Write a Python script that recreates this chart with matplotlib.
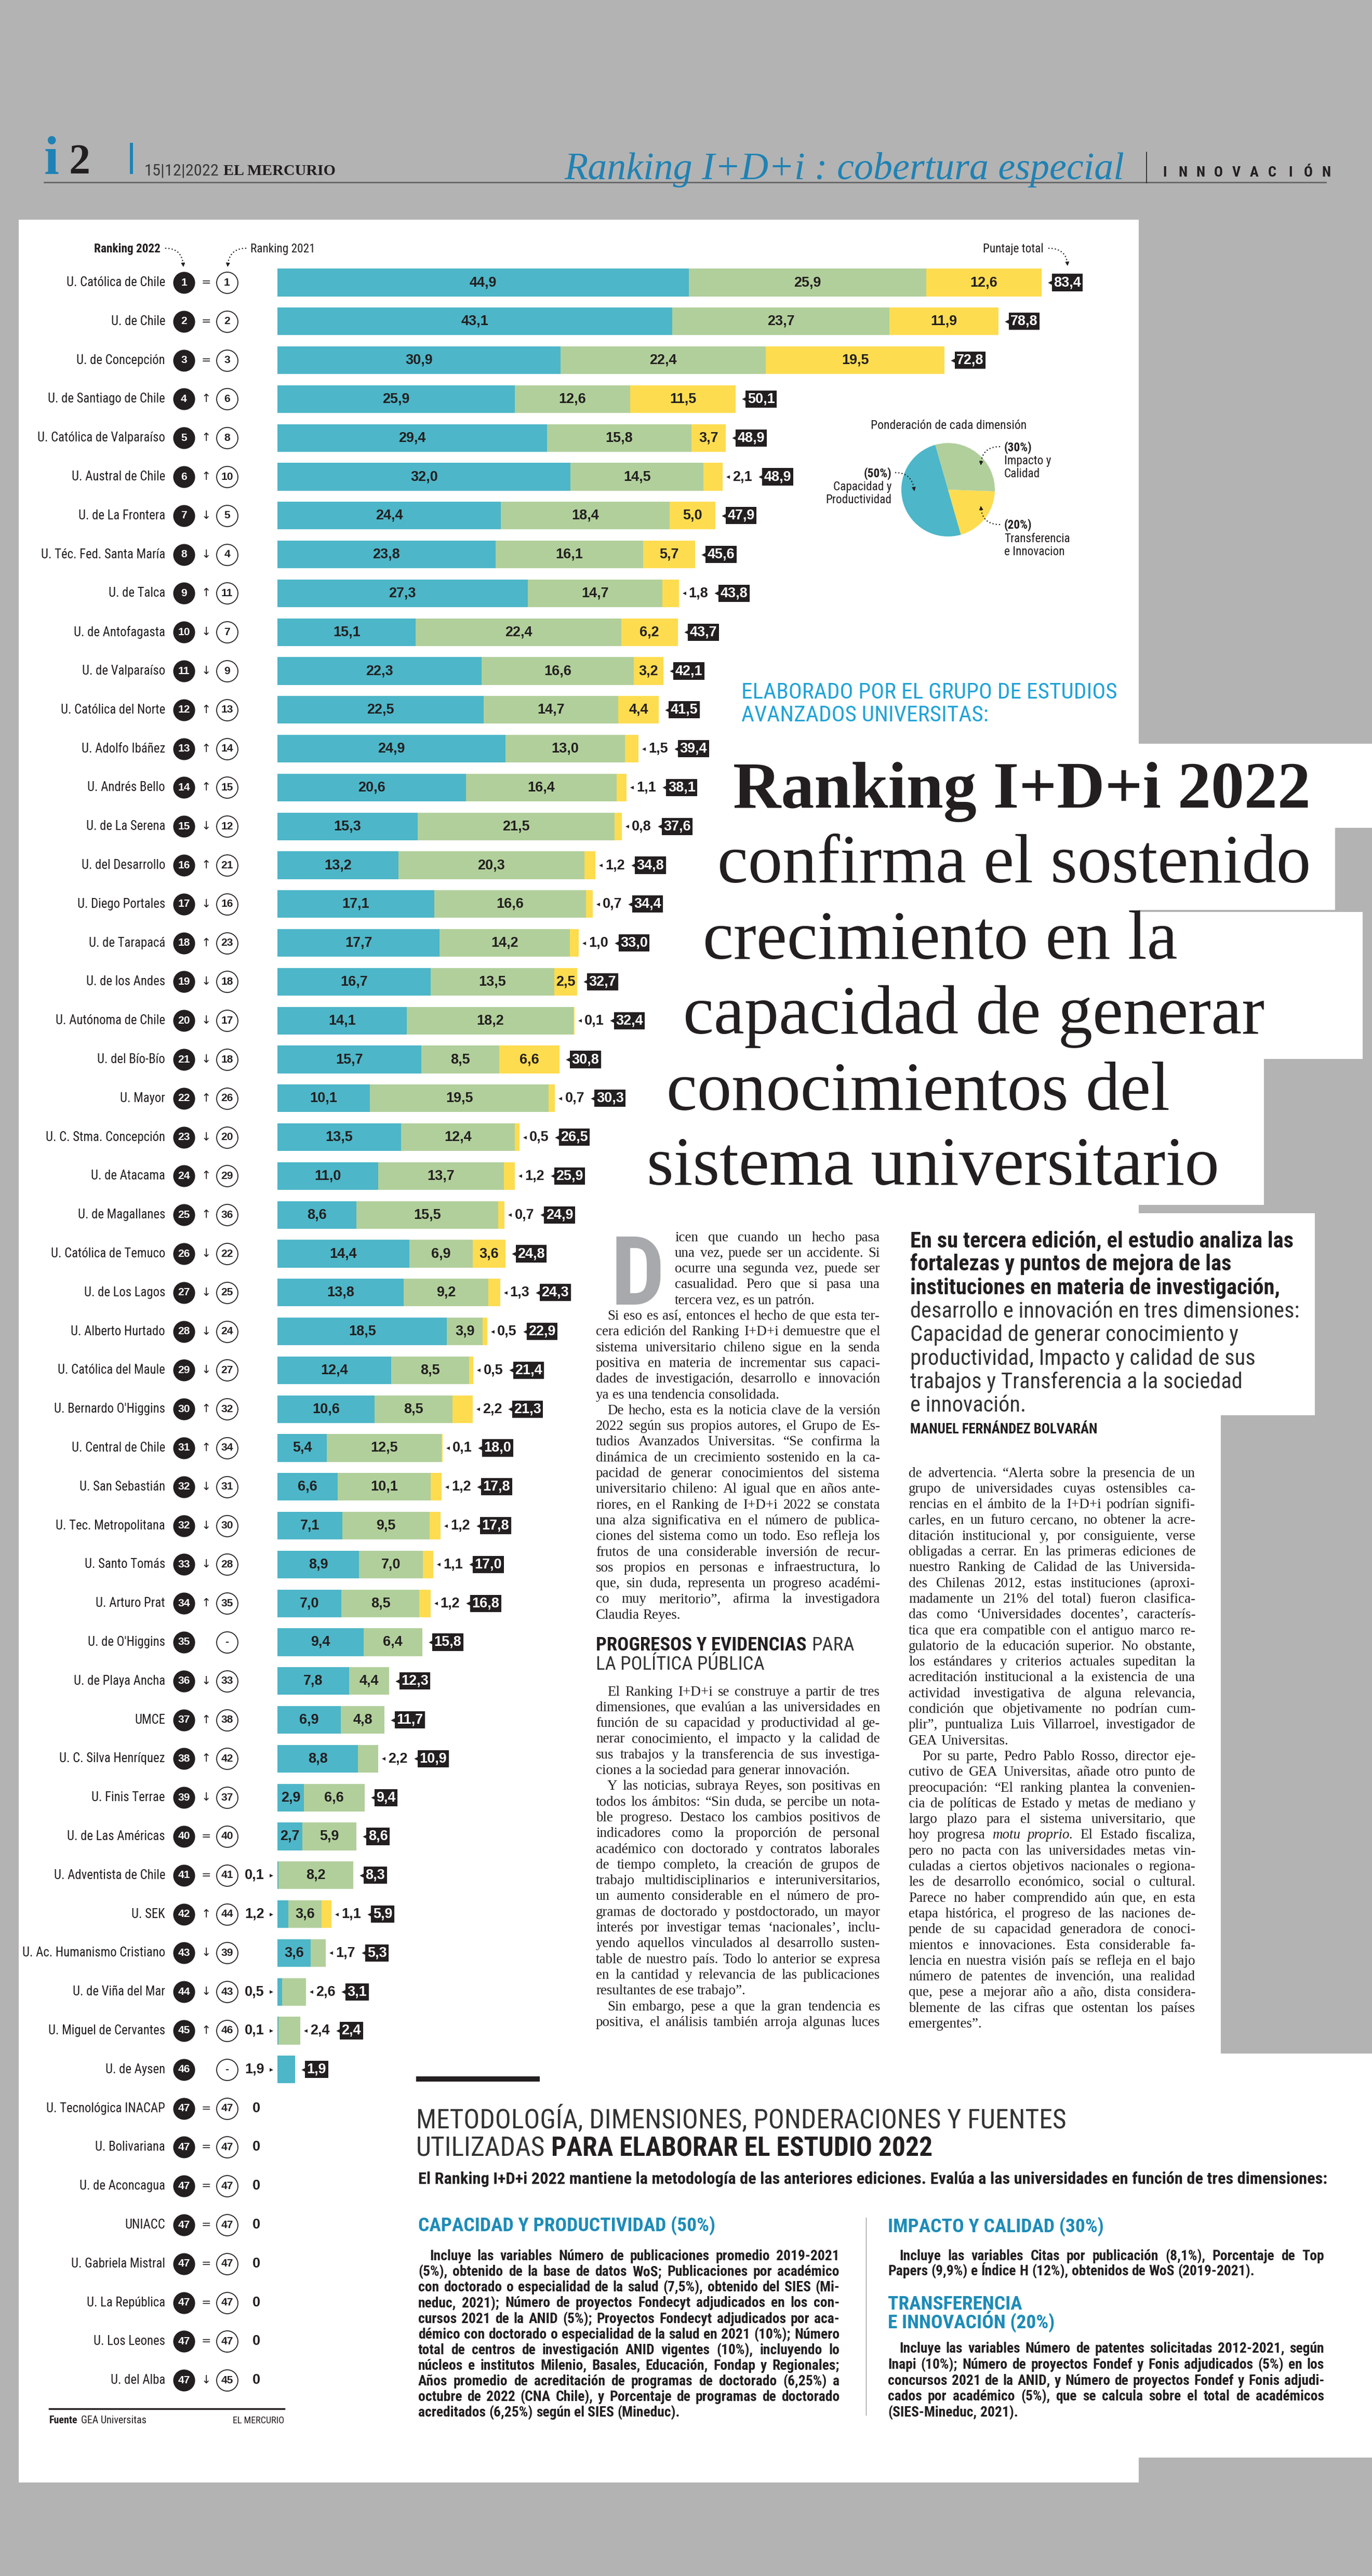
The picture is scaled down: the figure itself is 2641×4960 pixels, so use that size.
import numpy as np
import matplotlib
matplotlib.use("Agg")
import matplotlib.pyplot as plt
from matplotlib import font_manager as fm
from matplotlib.font_manager import FontProperties
from matplotlib.patches import Rectangle

W, H = 2641, 4960

# ---------------- data ----------------
universities = [
    "U. Católica de Chile", "U. de Chile", "U. de Concepción", "U. de Santiago de Chile",
    "U. Católica de Valparaíso", "U. Austral de Chile", "U. de La Frontera", "U. Téc. Fed. Santa María",
    "U. de Talca", "U. de Antofagasta", "U. de Valparaíso", "U. Católica del Norte", "U. Adolfo Ibáñez",
    "U. Andrés Bello", "U. de La Serena", "U. del Desarrollo", "U. Diego Portales", "U. de Tarapacá",
    "U. de los Andes", "U. Autónoma de Chile", "U. del Bío-Bío", "U. Mayor", "U. C. Stma. Concepción",
    "U. de Atacama", "U. de Magallanes", "U. Católica de Temuco", "U. de Los Lagos", "U. Alberto Hurtado",
    "U. Católica del Maule", "U. Bernardo O'Higgins", "U. Central de Chile", "U. San Sebastián",
    "U. Tec. Metropolitana", "U. Santo Tomás", "U. Arturo Prat", "U. de O'Higgins", "U. de Playa Ancha",
    "UMCE", "U. C. Silva Henríquez", "U. Finis Terrae", "U. de Las Américas", "U. Adventista de Chile",
    "U. SEK", "U. Ac. Humanismo Cristiano", "U. de Viña del Mar", "U. Miguel de Cervantes", "U. de Aysen",
    "U. Tecnológica INACAP", "U. Bolivariana", "U. de Aconcagua", "UNIACC", "U. Gabriela Mistral",
    "U. La República", "U. Los Leones", "U. del Alba"]

rank_2022 = ["1", "2", "3", "4", "5", "6", "7", "8", "9", "10", "11", "12", "13", "14", "15", "16",
             "17", "18", "19", "20", "21", "22", "23", "24", "25", "26", "27", "28", "29", "30", "31",
             "32", "32", "33", "34", "35", "36", "37", "38", "39", "40", "41", "42", "43", "44", "45",
             "46", "47", "47", "47", "47", "47", "47", "47", "47"]
rank_2021 = ["1", "2", "3", "6", "8", "10", "5", "4", "11", "7", "9", "13", "14", "15", "12", "21",
             "16", "23", "18", "17", "18", "26", "20", "29", "36", "22", "25", "24", "27", "32", "34",
             "31", "30", "28", "35", "-", "33", "38", "42", "37", "40", "41", "44", "39", "43", "46",
             "-", "47", "47", "47", "47", "47", "47", "47", "45"]
movement = ["=", "=", "=", "↑", "↑", "↑", "↓", "↓", "↑", "↓", "↓", "↑", "↑", "↑", "↓", "↑", "↓", "↑",
            "↓", "↓", "↓", "↑", "↓", "↑", "↑", "↓", "↓", "↓", "↓", "↑", "↑", "↓", "↓", "↓", "↑", "",
            "↓", "↑", "↑", "↓", "=", "=", "↑", "↓", "↓", "↑", "", "=", "=", "=", "=", "=", "=", "=", "↓"]

capacidad = [44.9, 43.1, 30.9, 25.9, 29.4, 32.0, 24.4, 23.8, 27.3, 15.1, 22.3, 22.5, 24.9, 20.6, 15.3,
             13.2, 17.1, 17.7, 16.7, 14.1, 15.7, 10.1, 13.5, 11.0, 8.6, 14.4, 13.8, 18.5, 12.4, 10.6,
             5.4, 6.6, 7.1, 8.9, 7.0, 9.4, 7.8, 6.9, 8.8, 2.9, 2.7, 0.1, 1.2, 3.6, 0.5, 0.1, 1.9,
             0, 0, 0, 0, 0, 0, 0, 0]
impacto = [25.9, 23.7, 22.4, 12.6, 15.8, 14.5, 18.4, 16.1, 14.7, 22.4, 16.6, 14.7, 13.0, 16.4, 21.5,
           20.3, 16.6, 14.2, 13.5, 18.2, 8.5, 19.5, 12.4, 13.7, 15.5, 6.9, 9.2, 3.9, 8.5, 8.5,
           12.5, 10.1, 9.5, 7.0, 8.5, 6.4, 4.4, 4.8, 2.2, 6.6, 5.9, 8.2, 3.6, 1.7, 2.6, 2.4, 0,
           0, 0, 0, 0, 0, 0, 0, 0]
transferencia = [12.6, 11.9, 19.5, 11.5, 3.7, 2.1, 5.0, 5.7, 1.8, 6.2, 3.2, 4.4, 1.5, 1.1, 0.8,
                 1.2, 0.7, 1.0, 2.5, 0.1, 6.6, 0.7, 0.5, 1.2, 0.7, 3.6, 1.3, 0.5, 0.5, 2.2,
                 0.1, 1.2, 1.2, 1.1, 1.2, 0, 0, 0, 0, 0, 0, 0, 1.1, 0, 0, 0, 0,
                 0, 0, 0, 0, 0, 0, 0, 0]
puntaje_total = [83.4, 78.8, 72.8, 50.1, 48.9, 48.9, 47.9, 45.6, 43.8, 43.7, 42.1, 41.5, 39.4, 38.1,
                 37.6, 34.8, 34.4, 33.0, 32.7, 32.4, 30.8, 30.3, 26.5, 25.9, 24.9, 24.8, 24.3, 22.9,
                 21.4, 21.3, 18.0, 17.8, 17.8, 17.0, 16.8, 15.8, 12.3, 11.7, 10.9, 9.4, 8.6, 8.3,
                 5.9, 5.3, 3.1, 2.4, 1.9, 0, 0, 0, 0, 0, 0, 0, 0]

pie_names = ["Capacidad y\nProductividad", "Impacto y\nCalidad", "Transferencia\ne Innovacion"]
pie_weights = [50, 30, 20]

# ---------------- style ----------------
PAGE = "#b3b3b3"
INK = "#231f20"
BLUE = "#4db6c8"
GREEN = "#b1cf9b"
YELLOW = "#fedc50"
HEAD_BLUE = "#1f82b4"
CYAN = "#22a3d6"
SUB_BLUE = "#1d8cb8"

installed = {f.name for f in fm.fontManager.ttflist}
NARROW = next((f for f in ["Liberation Sans Narrow", "Roboto Condensed", "Open Sans Condensed"]
               if f in installed), "Liberation Sans")
SANS = "Liberation Sans" if "Liberation Sans" in installed else "DejaVu Sans"
SERIF = "Liberation Serif" if "Liberation Serif" in installed else "DejaVu Serif"
SYM = "DejaVu Sans"

fig = plt.figure(figsize=(W / 100, H / 100), dpi=100)
fig.patch.set_facecolor(PAGE)
R = fig.canvas.get_renderer()


def fprop(fam, px, w="normal", st="normal"):
    return FontProperties(family=fam, size=px * 0.72, weight=w, style=st)


def tw(s, fam, px, w="normal", st="normal"):
    return R.get_text_width_height_descent(s, fprop(fam, px, w, st), ismath=False)[0]


_sample = "Universidad Católica de Chile 2022"
NK = 0.82 * tw(_sample, "Liberation Sans", 100) / tw(_sample, NARROW, 100)


def npx(px):
    return px * NK


bg = fig.add_axes([0, 0, 1, 1], zorder=0)
bg.set_xlim(0, W)
bg.set_ylim(H, 0)
bg.axis("off")

top = fig.add_axes([0, 0, 1, 1], zorder=3)
top.set_xlim(0, W)
top.set_ylim(H, 0)
top.axis("off")


def put(x, y, s, px, fam=None, w="normal", st="normal", c=INK, ha="left", va="baseline", axes=None, **kw):
    fam = fam or NARROW
    return (axes or bg).text(x, y, s, fontfamily=fam, fontsize=px * 0.72, fontweight=w, fontstyle=st,
                             color=c, ha=ha, va=va, **kw)


def fit(x, y, s, width, fam, w="normal", st="normal", **kw):
    px = 100 * width / tw(s, fam, 100, w, st)
    put(x, y, s, px, fam, w, st, **kw)
    return px


def curve(p0, c, p1):
    t = np.linspace(0, 1, 30)
    xs = (1 - t) ** 2 * p0[0] + 2 * (1 - t) * t * c[0] + t ** 2 * p1[0]
    ys = (1 - t) ** 2 * p0[1] + 2 * (1 - t) * t * c[1] + t ** 2 * p1[1]
    top.plot(xs[:-2], ys[:-2], color=INK, lw=1.6, ls=(0, (1.0, 1.8)))
    top.annotate("", xy=p1, xytext=(xs[-4], ys[-4]),
                 arrowprops=dict(arrowstyle="-|>", color=INK, lw=1.0, mutation_scale=11,
                                 shrinkA=0, shrinkB=0))


# ---------------- page background ----------------
for x0, y0, x1, y1 in [(36, 423, 2192, 4780), (1300, 1432, 2641, 1594), (1300, 1594, 2570, 1752),
                       (1300, 1756, 2623, 2039), (1300, 2039, 2433, 2320), (2150, 2336, 2531, 2725),
                       (2150, 2725, 2350, 3954), (2150, 3954, 2641, 4732)]:
    bg.add_patch(Rectangle((x0, y0), x1 - x0, y1 - y0, fc="white", ec="none"))

# ---------------- header ----------------
put(85, 334, "i", 104, SERIF, "bold", c=HEAD_BLUE)
put(133, 334, "2", 82, SERIF, "bold")
bg.add_patch(Rectangle((250, 275), 6, 60, fc=HEAD_BLUE, ec="none"))
fit(278, 337, "15|12|2022", 144, NARROW, c="#3a3a3a")
fit(430, 337, "EL MERCURIO", 216, SERIF, "bold")
bg.plot([85, 2552], [351, 351], color="#666666", lw=2)
fit(1086, 345, "Ranking I+D+i : cobertura especial", 1078, SERIF, "normal", "italic", c=HEAD_BLUE)
bg.plot([2207, 2207], [293, 352], color=INK, lw=1.2)
for k, ch in enumerate("INNOVACIÓN"):
    put(2242 + k * 34.5, 340, ch, npx(30), w="bold", ha="center")

# ---------------- chart annotations ----------------
ANN = npx(25)
put(309, 486, "Ranking 2022", ANN, w="bold", ha="right")
put(482, 486, "Ranking 2021", ANN)
put(2009, 486, "Puntaje total", ANN, ha="right")
curve((318, 478), (352, 478), (353, 514))
curve((474, 478), (440, 478), (438, 514))
curve((2018, 478), (2054, 478), (2055, 512))

# ---------------- bar chart ----------------
PX0, SC, ROW0, DY = 534, 17.64, 544, 74.8


def X(px):
    return (px - PX0) / SC


ax = fig.add_axes([0, 0, 1, 1], zorder=2)
ax.set_xlim(X(0), X(W))
ax.set_ylim(1 + (H - ROW0) / DY, 1 - ROW0 / DY)
ax.axis("off")

rows = np.arange(1, len(universities) + 1)
cap_a = np.array(capacidad)
imp_a = np.array(impacto)
tra_a = np.array(transferencia)
BAR_H = 0.71
ax.barh(rows, cap_a, height=BAR_H, color=BLUE, lw=0)
ax.barh(rows, imp_a, left=cap_a, height=BAR_H, color=GREEN, lw=0)
ax.barh(rows, tra_a, left=cap_a + imp_a, height=BAR_H, color=YELLOW, lw=0)


def fmt(v):
    return f"{v:.1f}".replace(".", ",")


VAL = 27
NAME = npx(26.5)
CIRC = 21
for i, y in enumerate(rows):
    # name, ranks and movement
    put(X(318), y, universities[i], NAME, ha="right", va="center", axes=ax)
    ax.scatter([X(354)], [y], s=920, color=INK, lw=0, zorder=3)
    put(X(354), y, rank_2022[i], CIRC, SANS, "bold", c="white", ha="center", va="center", axes=ax, zorder=4)
    if movement[i]:
        put(X(397), y, movement[i], 22, SYM, ha="center", va="center", axes=ax)
    ax.scatter([X(437)], [y], s=870, facecolor="white", edgecolor=INK, lw=1.3, zorder=3)
    put(X(437), y, rank_2021[i], CIRC, SANS, "bold", ha="center", va="center", axes=ax, zorder=4)

    segs = [(cap_a[i], 0.0), (imp_a[i], cap_a[i]), (tra_a[i], cap_a[i] + imp_a[i])]
    nz = [k for k in range(3) if segs[k][0] > 0]
    left_k = 0 if 0 < cap_a[i] < 2.5 else None
    rest = [k for k in nz if k != left_k]
    right_k = None
    if rest and (segs[rest[-1]][0] < 2.5 or puntaje_total[i] < 4):
        right_k = rest[-1]
    for k in rest:
        if k != right_k:
            put(segs[k][1] + segs[k][0] / 2, y, fmt(segs[k][0]), VAL, SANS, "bold", ha="center",
                va="center", axes=ax)
    if left_k is not None:
        put(X(509), y, fmt(cap_a[i]), VAL, SANS, "bold", ha="right", va="center", axes=ax)
        ax.scatter([X(522)], [y], marker=">", s=24, color=INK, lw=0)

    end_px = PX0 + (cap_a[i] + imp_a[i] + tra_a[i]) * SC
    cursor = end_px
    if right_k is not None:
        lab = fmt(segs[right_k][0])
        ax.scatter([X(end_px + 10)], [y], marker="<", s=24, color=INK, lw=0)
        put(X(end_px + 19), y, lab, VAL, SANS, "bold", ha="left", va="center", axes=ax)
        cursor = end_px + 19 + tw(lab, SANS, VAL, "bold")
    if puntaje_total[i] > 0:
        bx = cursor + 13
        ax.scatter([X(bx + 5)], [y], marker="<", s=80, color=INK, lw=0)
        put(X(bx + 10), y, fmt(puntaje_total[i]), VAL, SANS, "bold", c="white", ha="left", va="center",
            axes=ax, bbox=dict(boxstyle="square,pad=0.13", fc=INK, ec="none"))
    else:
        put(X(493), y, "0", VAL, SANS, "bold", ha="center", va="center", axes=ax)

# footer of chart
FT = npx(21.5)
bg.plot([95, 547], [4638, 4638], color=INK, lw=2.5)
put(95, 4666, "Fuente", FT, w="bold")
put(95 + tw("Fuente", NARROW, FT, "bold") + 6, 4666, "GEA Universitas", FT)
put(547, 4666, "EL MERCURIO", npx(19.5), ha="right")

# ---------------- pie ----------------
pax = fig.add_axes([1735 / W, 1 - (943 + 90) / H, 180 / W, 180 / H], zorder=1)
pax.pie([pie_weights[1], pie_weights[0], pie_weights[2]], colors=[GREEN, BLUE, YELLOW],
        startangle=-2, counterclock=True, wedgeprops=dict(linewidth=0))
pax.set_xlim(-1, 1)
pax.set_ylim(-1, 1)
put(1826, 826, "Ponderación de cada dimensión", npx(25.5), ha="center")
PL = npx(25)
put(1716, 919, f"({pie_weights[0]}%)", PL, w="bold", ha="right")
for k, ln in enumerate(pie_names[0].split("\n")):
    put(1716, 944 + k * 25, ln, PL, ha="right")
put(1933, 869, f"({pie_weights[1]}%)", PL, w="bold")
for k, ln in enumerate(pie_names[1].split("\n")):
    put(1933, 894 + k * 25, ln, PL)
put(1933, 1018, f"({pie_weights[2]}%)", PL, w="bold")
for k, ln in enumerate(pie_names[2].split("\n")):
    put(1933, 1044 + k * 25, ln, PL)
curve((1723, 910), (1757, 910), (1760, 946))
curve((1925, 860), (1889, 860), (1888, 896))
curve((1925, 1010), (1889, 1010), (1888, 974))

# ---------------- headline ----------------
epx = fit(1427, 1345, "ELABORADO POR EL GRUPO DE ESTUDIOS", 724, NARROW, c=CYAN)
put(1427, 1389, "AVANZADOS UNIVERSITAS:", epx, NARROW, c=CYAN)
fit(1411, 1555, "Ranking I+D+i 2022", 1112, SERIF, "bold")
tpx = 100 * 1142 / tw("confirma el sostenido", SERIF, 100)
for x0, yb, ln in [(1381, 1699, "confirma el sostenido"), (1353, 1846, "crecimiento en la"),
                   (1315, 1990, "capacidad de generar"), (1283, 2137, "conocimientos del"),
                   (1245, 2281, "sistema universitario")]:
    put(x0, yb, ln, tpx, SERIF)

# ---------------- article ----------------
col_a1 = ["icen que cuando un hecho pasa", "una vez, puede ser un accidente. Si",
          "ocurre una segunda vez, puede ser", "casualidad. Pero que si pasa una",
          "tercera vez, es un patrón."]
col_a2 = ["Si eso es así, entonces el hecho de que esta ter-",
          "cera edición del Ranking I+D+i demuestre que el",
          "sistema universitario chileno sigue en la senda",
          "positiva en materia de incrementar sus capaci-",
          "dades de investigación, desarrollo e innovación",
          "ya es una tendencia consolidada."]
col_a3 = ["De hecho, esta es la noticia clave de la versión",
          "2022 según sus propios autores, el Grupo de Es-",
          "tudios Avanzados Universitas. “Se confirma la",
          "dinámica de un crecimiento sostenido en la ca-",
          "pacidad de generar conocimientos del sistema",
          "universitario chileno: Al igual que en años ante-",
          "riores, en el Ranking de I+D+i 2022 se constata",
          "una alza significativa en el número de publica-",
          "ciones del sistema como un todo. Eso refleja los",
          "frutos de una considerable inversión de recur-",
          "sos propios en personas e infraestructura, lo",
          "que, sin duda, representa un progreso académi-",
          "co muy meritorio”, afirma la investigadora",
          "Claudia Reyes."]
col_a4 = ["El Ranking I+D+i se construye a partir de tres",
          "dimensiones, que evalúan a las universidades en",
          "función de su capacidad y productividad al ge-",
          "nerar conocimiento, el impacto y la calidad de",
          "sus trabajos y la transferencia de sus investiga-",
          "ciones a la sociedad para generar innovación."]
col_a5 = ["Y las noticias, subraya Reyes, son positivas en",
          "todos los ámbitos: “Sin duda, se percibe un nota-",
          "ble progreso. Destaco los cambios positivos de",
          "indicadores como la proporción de personal",
          "académico con doctorado y contratos laborales",
          "de tiempo completo, la creación de grupos de",
          "trabajo multidisciplinarios e interuniversitarios,",
          "un aumento considerable en el número de pro-",
          "gramas de doctorado y postdoctorado, un mayor",
          "interés por investigar temas ‘nacionales’, inclu-",
          "yendo aquellos vinculados al desarrollo susten-",
          "table de nuestro país. Todo lo anterior se expresa",
          "en la cantidad y relevancia de las publicaciones",
          "resultantes de ese trabajo”."]
col_a6 = ["Sin embargo, pese a que la gran tendencia es",
          "positiva, el análisis también arroja algunas luces"]
col_b1 = ["de advertencia. “Alerta sobre la presencia de un",
          "grupo de universidades cuyas ostensibles ca-",
          "rencias en el ámbito de la I+D+i podrían signifi-",
          "carles, en un futuro cercano, no obtener la acre-",
          "ditación institucional y, por consiguiente, verse",
          "obligadas a cerrar. En las primeras ediciones de",
          "nuestro Ranking de Calidad de las Universida-",
          "des Chilenas 2012, estas instituciones (aproxi-",
          "madamente un 21% del total) fueron clasifica-",
          "das como ‘Universidades docentes’, caracterís-",
          "tica que era compatible con el antiguo marco re-",
          "gulatorio de la educación superior. No obstante,",
          "los estándares y criterios actuales supeditan la",
          "acreditación institucional a la existencia de una",
          "actividad investigativa de alguna relevancia,",
          "condición que objetivamente no podrían cum-",
          "plir”, puntualiza Luis Villarroel, investigador de",
          "GEA Universitas."]
col_b2 = ["Por su parte, Pedro Pablo Rosso, director eje-",
          "cutivo de GEA Universitas, añade otro punto de",
          "preocupación: “El ranking plantea la convenien-",
          "cia de políticas de Estado y metas de mediano y",
          "largo plazo para el sistema universitario, que",
          "hoy progresa ~motu ~proprio. El Estado fiscaliza,",
          "pero no pacta con las universidades metas vin-",
          "culadas a ciertos objetivos nacionales o regiona-",
          "les de desarrollo económico, social o cultural.",
          "Parece no haber comprendido aún que, en esta",
          "etapa histórica, el progreso de las naciones de-",
          "pende de su capacidad generadora de conoci-",
          "mientos e innovaciones. Esta considerable fa-",
          "lencia en nuestra visión país se refleja en el bajo",
          "número de patentes de invención, una realidad",
          "que, pese a mejorar año a año, dista considera-",
          "blemente de las cifras que ostentan los países",
          "emergentes”."]

deck_bold = ["En su tercera edición, el estudio analiza las", "fortalezas y puntos de mejora de las",
             "instituciones en materia de investigación,"]
deck_light = ["desarrollo e innovación en tres dimensiones:", "Capacidad de generar conocimiento y",
              "productividad, Impacto y calidad de sus", "trabajos y Transferencia a la sociedad",
              "e innovación."]

met_1 = ["Incluye las variables Número de publicaciones promedio 2019-2021",
         "(5%), obtenido de la base de datos WoS; Publicaciones por académico",
         "con doctorado o especialidad de la salud (7,5%), obtenido del SIES (Mi-",
         "neduc, 2021); Número de proyectos Fondecyt adjudicados en los con-",
         "cursos 2021 de la ANID (5%); Proyectos Fondecyt adjudicados por aca-",
         "démico con doctorado o especialidad de la salud en 2021 (10%); Número",
         "total de centros de investigación ANID vigentes (10%), incluyendo lo",
         "núcleos e institutos Milenio, Basales, Educación, Fondap y Regionales;",
         "Años promedio de acreditación de programas de doctorado (6,25%) a",
         "octubre de 2022 (CNA Chile), y Porcentaje de programas de doctorado",
         "acreditados (6,25%) según el SIES (Mineduc)."]
met_2 = ["Incluye las variables Citas por publicación (8,1%), Porcentaje de Top",
         "Papers (9,9%) e Índice H (12%), obtenidos de WoS (2019-2021)."]
met_3 = ["Incluye las variables Número de patentes solicitadas 2012-2021, según",
         "Inapi (10%); Número de proyectos Fondef y Fonis adjudicados (5%) en los",
         "concursos 2021 de la ANID, y Número de proyectos Fondef y Fonis adjudi-",
         "cados por académico (5%), que se calcula sobre el total de académicos",
         "(SIES-Mineduc, 2021)."]


def block(lines, x0, x1, y0, lh, indent=0, jlast=False):
    return dict(lines=lines, x0=x0, x1=x1, y0=y0, lh=lh, indent=indent, jlast=jlast)


def auto_px(blocks, fam, w="normal"):
    r = []
    for b in blocks:
        n = len(b["lines"])
        for k, ln in enumerate(b["lines"]):
            if k == n - 1 and not b["jlast"]:
                continue
            avail = b["x1"] - b["x0"] - (b["indent"] if k == 0 else 0)
            r.append(avail / tw(ln.replace("~", ""), fam, 100, w))
    return 100 * min(r) * 0.99


def draw_blocks(blocks, fam, px, w="normal", c=INK, base=0.28):
    sp = tw("a a", fam, px, w) - tw("aa", fam, px, w)
    for b in blocks:
        n = len(b["lines"])
        for k, ln in enumerate(b["lines"]):
            yb = b["y0"] + k * b["lh"] + base * px
            xs = b["x0"] + (b["indent"] if k == 0 else 0)
            words = ln.split()
            sts = ["italic" if wd.startswith("~") else "normal" for wd in words]
            words = [wd.lstrip("~") for wd in words]
            ws = [tw(wd, fam, px, w, st) for wd, st in zip(words, sts)]
            if (k == n - 1 and not b["jlast"]) or len(words) == 1:
                gap = sp
            else:
                gap = (b["x1"] - xs - sum(ws)) / (len(words) - 1)
            x = xs
            for wd, wdt, st in zip(words, ws, sts):
                put(x, yb, wd, px, fam, w, st, c=c)
                x += wdt + gap


LH = 30.3
A0, A1, B0, B1 = 1147, 1694, 1749, 2301
body = [block(col_a1, 1299, A1, 2382, LH),
        block(col_a2, A0, A1, 2382 + 5 * LH, LH, 22),
        block(col_a3, A0, A1, 2382 + 11 * LH, LH, 22),
        block(col_a4, A0, A1, 3257, LH, 22),
        block(col_a5, A0, A1, 3257 + 6 * LH, LH, 22),
        block(col_a6, A0, A1, 3257 + 20 * LH, LH, 22, True),
        block(col_b1, B0, B1, 2836, LH),
        block(col_b2, B0, B1, 2836 + 18 * LH, LH, 26)]
bpx = min(auto_px(body, SERIF), 27)
draw_blocks(body, SERIF, bpx)

# drop cap
fit(1176, 2512, "D", 104, NARROW, "bold", c="#a7a9ac")

# section heading inside article
wb = tw("PROGRESOS Y EVIDENCIAS", NARROW, 100, "bold")
wr = tw("PARA", NARROW, 100)
wsp = tw("a a", NARROW, 100) - tw("aa", NARROW, 100)
hpx = 100 * 497 / (wb + wsp + wr)
put(1147, 3178, "PROGRESOS Y EVIDENCIAS", hpx, NARROW, "bold")
put(1147 + (wb + wsp) * hpx / 100, 3178, "PARA", hpx, NARROW, c="#333333")
put(1147, 3215, "LA POLÍTICA PÚBLICA", hpx, NARROW, c="#333333")

# deck
dpx = 100 * 739 / tw(deck_bold[0], NARROW, 100, "bold")
for k, ln in enumerate(deck_bold):
    put(1752, 2387 + k * 45.3 + 0.33 * dpx, ln, dpx, NARROW, "bold")
for k, ln in enumerate(deck_light):
    put(1752, 2387 + (k + 3) * 45.3 + 0.33 * dpx, ln, dpx, NARROW, c="#333333")
fit(1752, 2760, "MANUEL FERNÁNDEZ BOLVARÁN", 361, NARROW, "bold")

# ---------------- methodology box ----------------
bg.add_patch(Rectangle((801, 3998), 238, 10, fc=INK, ec="none"))
mpx = fit(801, 4097, "METODOLOGÍA, DIMENSIONES, PONDERACIONES Y FUENTES", 1249, NARROW, c="#333333")
put(801, 4151, "UTILIZADAS", mpx, NARROW, c="#333333")
put(801 + tw("UTILIZADAS", NARROW, mpx) + (tw("a a", NARROW, mpx) - tw("aa", NARROW, mpx)), 4151,
    "PARA ELABORAR EL ESTUDIO 2022", mpx, NARROW, "bold")
fit(805, 4205, "El Ranking I+D+i 2022 mantiene la metodología de las anteriores ediciones. "
               "Evalúa a las universidades en función de tres dimensiones:", 1750, NARROW, "bold")
spx = 100 * 572 / tw("CAPACIDAD Y PRODUCTIVIDAD (50%)", NARROW, 100, "bold")
put(805, 4283 + 0.35 * spx, "CAPACIDAD Y PRODUCTIVIDAD (50%)", spx, NARROW, "bold", c=SUB_BLUE)
put(1709, 4285 + 0.35 * spx, "IMPACTO Y CALIDAD (30%)", spx, NARROW, "bold", c=SUB_BLUE)
put(1709, 4434 + 0.35 * spx, "TRANSFERENCIA", spx, NARROW, "bold", c=SUB_BLUE)
put(1709, 4470 + 0.35 * spx, "E INNOVACIÓN (20%)", spx, NARROW, "bold", c=SUB_BLUE)
bg.plot([1667, 1667], [4270, 4650], color="#9a9a9a", lw=1)
met = [block(met_1, 805, 1616, 4343, 30.1, 22),
       block(met_2, 1709, 2549, 4343, 29.0, 22),
       block(met_3, 1709, 2549, 4521, 30.7, 22)]
mbpx = min(auto_px(met, NARROW, "bold"), 30)
draw_blocks(met, NARROW, mbpx, "bold", base=0.33)

fig.savefig("out.png", dpi=100, facecolor=PAGE)
